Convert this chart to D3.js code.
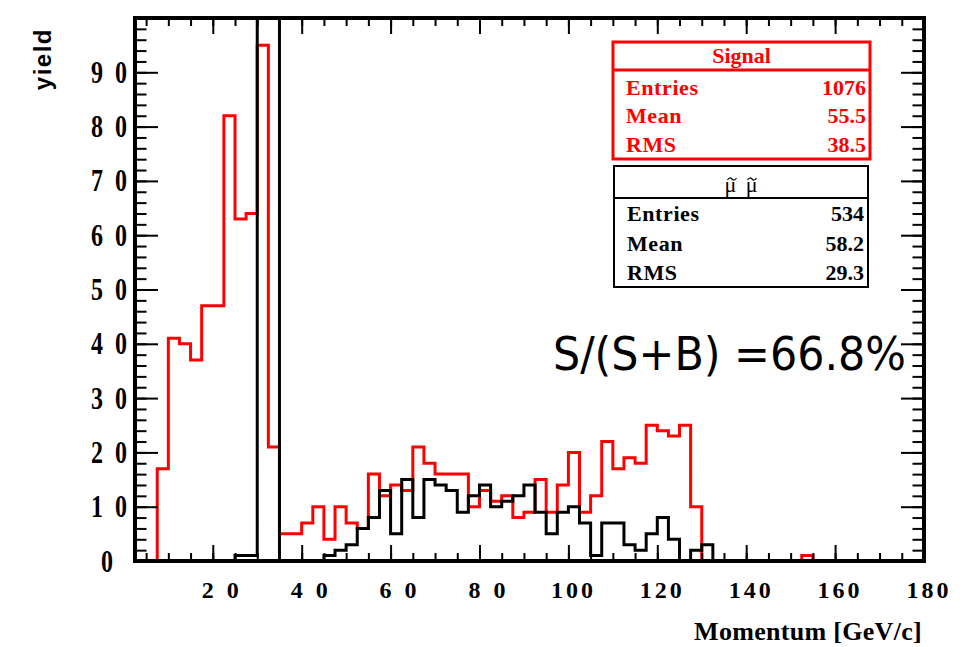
<!DOCTYPE html>
<html>
<head>
<meta charset="utf-8">
<script src="https://cdn.jsdelivr.net/npm/d3@7"></script>
<style>
  body { margin: 0; background: #fff; }
  text { font-family: "Liberation Serif", "Times New Roman", serif; font-weight: bold; }
</style>
</head>
<body>
<div id="chart"></div>
<script>
// histogram binning: 2.5 GeV/c bins from 2.5 up to 180
const binStart = 2.5, binWidth = 2.5, binEnd = 180;

// signal (red) bin contents, one per bin starting at 2.5
const signalCounts = [
  0, 0, 17, 41, 40, 37, 47, 47, 82, 63,
  64, 95, 21, 5, 5, 7, 10, 4, 10, 7,
  6, 16, 12, 14, 13, 21, 18, 16, 16, 16,
  10, 13, 11, 12, 8, 9, 15, 9, 14, 20,
  9, 12, 22, 17, 19, 18, 25, 24, 23, 25,
  10, 0, 0, 0, 0, 0, 0, 0, 0, 0,
  1, 0, 0, 0, 0, 0, 0, 0, 0, 0, 0
];

// smuon pair background (black) bin contents; the 30-35 bins run off the top
const smuonCounts = [
  0, 0, 0, 0, 0, 0, 0, 0, 0, 1,
  1, 132, 133, 0, 0, 0, 0, 1, 2, 3,
  6, 8, 13, 5, 15, 8, 15, 14, 13, 9,
  12, 14, 10, 11, 12, 14, 9, 5, 9, 10,
  7, 1, 7, 7, 3, 2, 5, 8, 4, 0,
  2, 3, 0, 0, 0, 0, 0, 0, 0, 0,
  0, 0, 0, 0, 0, 0, 0, 0, 0, 0, 0
];

const xTickLabels = [20, 40, 60, 80, 100, 120, 140, 160, 180];
const yTickLabels = [0, 10, 20, 30, 40, 50, 60, 70, 80, 90];

const statNames = ["Entries", "Mean", "RMS"];
const signalStats = ["1076", "55.5", "38.5"];
const smuonStats = ["534", "58.2", "29.3"];
const purityText = "S/(S+B) =66.8%";

const binLow = d3.range(signalCounts.length).map(i => binStart + i * binWidth);

const svg = d3.select("#chart").append("svg")
  .attr("width", 970).attr("height", 647)
  .style("background", "#fff");

const x = d3.scaleLinear().domain([binStart, binEnd]).range([135, 924]);
const y = d3.scaleLinear().domain([0, 100]).range([561, 18]);

const xMinor = d3.range(5, binEnd, 5);
const yMinor = d3.range(2, 100, 2);

svg.append("defs").append("clipPath").attr("id", "plotclip")
  .append("rect")
  .attr("x", x(binStart)).attr("y", y(100))
  .attr("width", x(binEnd) - x(binStart)).attr("height", y(0) - y(100) + 2);

// histograms as step outlines
const stepLine = d3.line()
  .x(d => x(d[0])).y(d => y(d[1]))
  .curve(d3.curveStepAfter);

const histPoints = counts => {
  const pts = [[binStart, 0]];
  counts.forEach((c, i) => pts.push([binLow[i], c]));
  pts.push([binEnd, counts[counts.length - 1]]);
  pts.push([binEnd, 0]);
  return pts;
};

const plot = svg.append("g").attr("clip-path", "url(#plotclip)");
plot.append("path")
  .attr("d", stepLine(histPoints(signalCounts)))
  .attr("fill", "none").attr("stroke", "#ff0000").attr("stroke-width", 3);
plot.append("path")
  .attr("d", stepLine(histPoints(smuonCounts)))
  .attr("fill", "none").attr("stroke", "#000").attr("stroke-width", 3);

// axes, ticks pointing inward on all four sides
const styleAxis = g => {
  g.select(".domain").remove();
  g.selectAll("line").attr("stroke", "#000").attr("stroke-width", 2);
};

svg.append("g").attr("transform", `translate(0,${y(0)})`)
  .call(d3.axisBottom(x).tickValues(xMinor).tickSize(-8).tickFormat(""))
  .call(styleAxis);
const gxMajor = svg.append("g").attr("transform", `translate(0,${y(0)})`)
  .call(d3.axisBottom(x).tickValues(xTickLabels).tickSize(-16).tickPadding(20))
  .call(styleAxis);
gxMajor.selectAll("text")
  .attr("font-size", 24).attr("fill", "#000")
  .attr("font-family", "Liberation Serif, serif").attr("font-weight", "bold")
  .style("letter-spacing", d => d >= 100 ? "3px" : "13px")
  .attr("dx", d => d >= 100 ? 4.5 : 13.5);

svg.append("g").attr("transform", `translate(0,${y(100)})`)
  .call(d3.axisTop(x).tickValues(xMinor).tickSize(-8).tickFormat(""))
  .call(styleAxis);
svg.append("g").attr("transform", `translate(0,${y(100)})`)
  .call(d3.axisTop(x).tickValues(xTickLabels).tickSize(-16).tickFormat(""))
  .call(styleAxis);

svg.append("g").attr("transform", `translate(${x(binStart)},0)`)
  .call(d3.axisLeft(y).tickValues(yMinor).tickSize(-11.5).tickFormat(""))
  .call(styleAxis);
const gyMajor = svg.append("g").attr("transform", `translate(${x(binStart)},0)`)
  .call(d3.axisLeft(y).tickValues(yTickLabels.concat([100])).tickSize(-23))
  .call(styleAxis);
gyMajor.selectAll("text")
  .filter(d => d === 100).remove();
gyMajor.selectAll("text")
  .attr("font-size", 24).attr("fill", "#000")
  .attr("font-family", "Liberation Serif, serif").attr("font-weight", "bold")
  .style("letter-spacing", "12px")
  .attr("x", d => d === 0 ? -10 : 4)
  .attr("transform", "scale(1,1.3)");

svg.append("g").attr("transform", `translate(${x(binEnd)},0)`)
  .call(d3.axisRight(y).tickValues(yMinor).tickSize(-11.5).tickFormat(""))
  .call(styleAxis);
svg.append("g").attr("transform", `translate(${x(binEnd)},0)`)
  .call(d3.axisRight(y).tickValues(yTickLabels).tickSize(-23).tickFormat(""))
  .call(styleAxis);

// frame
svg.append("rect")
  .attr("x", x(binStart)).attr("y", y(100))
  .attr("width", x(binEnd) - x(binStart)).attr("height", y(0) - y(100))
  .attr("fill", "none").attr("stroke", "#000").attr("stroke-width", 4);

// axis titles
svg.append("text")
  .attr("x", 922).attr("y", 640)
  .attr("text-anchor", "end")
  .attr("font-size", 26)
  .style("letter-spacing", "0.3px")
  .text("Momentum [GeV/c]");

svg.append("text")
  .attr("transform", "translate(51,28) rotate(-90)")
  .attr("text-anchor", "end")
  .style("font-family", "Liberation Sans, Arial, sans-serif")
  .style("letter-spacing", "1.5px")
  .attr("font-size", 24)
  .text("yield");

// stat boxes
const drawStats = (box, color, values, lineW) => {
  const g = svg.append("g");
  g.append("rect")
    .attr("x", box.x).attr("y", box.y).attr("width", box.w).attr("height", box.h)
    .attr("fill", "#fff").attr("stroke", color).attr("stroke-width", lineW);
  g.append("line")
    .attr("x1", box.x).attr("x2", box.x + box.w)
    .attr("y1", box.div).attr("y2", box.div)
    .attr("stroke", color).attr("stroke-width", lineW);
  statNames.forEach((name, i) => {
    g.append("text")
      .attr("x", box.x + 13).attr("y", box.rows[i])
      .attr("font-size", 22).attr("fill", color)
      .style("letter-spacing", "0.6px")
      .text(name);
    g.append("text")
      .attr("x", box.x + box.w - 4).attr("y", box.rows[i])
      .attr("text-anchor", "end")
      .attr("font-size", 22).attr("fill", color)
      .text(values[i]);
  });
  return g;
};

const sigBox = {x: 613, y: 42, w: 257, h: 117, div: 70, rows: [95, 123, 152]};
const bkgBox = {x: 614, y: 166, w: 254, h: 121, div: 198, rows: [221, 251, 280]};

drawStats(sigBox, "#ff0000", signalStats, 3)
  .append("text")
  .attr("x", sigBox.x + sigBox.w / 2).attr("y", 63)
  .attr("text-anchor", "middle").attr("font-size", 22)
  .attr("fill", "#ff0000")
  .text("Signal");

// smuon pair title: two mu letters, each with a drawn tilde above it
const bkgG = drawStats(bkgBox, "#000", smuonStats, 2);
const muX = bkgBox.x + bkgBox.w / 2;
bkgG.append("text")
  .attr("x", muX).attr("y", 192)
  .attr("text-anchor", "middle").attr("font-size", 22)
  .style("font-weight", "normal")
  .style("word-spacing", "4px")
  .text("\u03BC \u03BC");
[-10, 10].forEach(off => {
  const cx = muX + off + 1;
  bkgG.append("path")
    .attr("d", `M${cx - 4.5},${180} q2.2,-3.5 4.5,-1 t4.5,-1`)
    .attr("fill", "none").attr("stroke", "#000").attr("stroke-width", 1.2);
});

svg.append("text")
  .attr("x", 553).attr("y", 370)
  .style("font-family", "DejaVu Sans, sans-serif")
  .style("font-weight", "normal")
  .attr("font-size", 47)
  .attr("textLength", 353)
  .attr("lengthAdjust", "spacingAndGlyphs")
  .text(purityText);
</script>
</body>
</html>
